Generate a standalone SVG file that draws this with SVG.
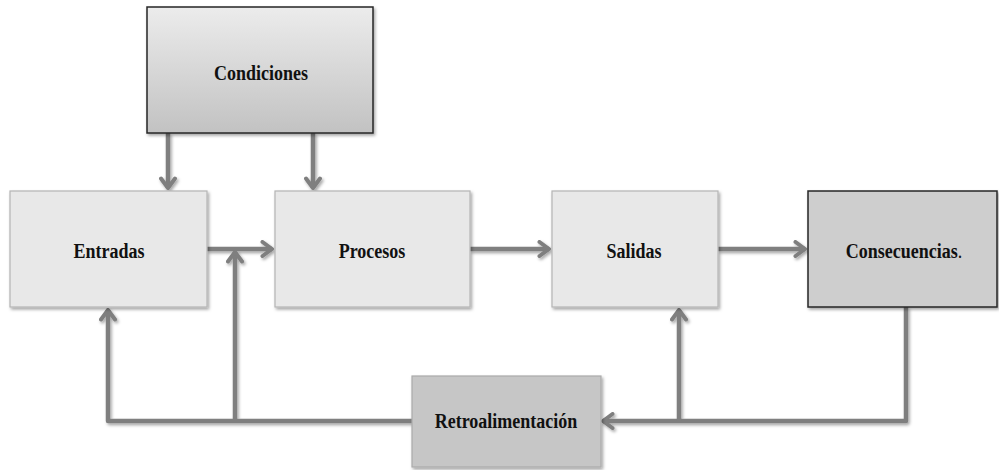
<svg xmlns="http://www.w3.org/2000/svg" width="999" height="470" viewBox="0 0 999 470">
<style>
.box{fill:#e8e8e8;stroke:#b4b4b4;stroke-width:1.2}
.dark{stroke:#262626;stroke-width:1.5}
.lbl{font-family:"Liberation Serif","Times New Roman",serif;font-weight:bold;font-size:18px;fill:#111;text-anchor:middle}
.c{fill:none;stroke:#7f7f7f;stroke-width:4.5;stroke-linejoin:round}
</style>
<defs>
<linearGradient id="g1" x1="0" y1="0" x2="0" y2="1">
<stop offset="0" stop-color="#ececec"/>
<stop offset="1" stop-color="#c2c2c2"/>
</linearGradient>
<filter id="sh" x="-10%" y="-10%" width="130%" height="130%">
<feDropShadow dx="1.5" dy="2" stdDeviation="1.5" flood-color="#000" flood-opacity="0.35"/>
</filter>
<marker id="ah" markerWidth="14" markerHeight="18" viewBox="0 0 14 18" refX="12" refY="9" orient="auto" markerUnits="userSpaceOnUse">
<path d="M2.5,2 L12,9 L2.5,16" fill="none" stroke="#7f7f7f" stroke-width="4" stroke-linecap="round" stroke-linejoin="round"/>
</marker>
</defs>
<g id="connectors" filter="url(#sh)">
<path class="c" d="M168,133 V188" marker-end="url(#ah)"/>
<path class="c" d="M313,133 V188" marker-end="url(#ah)"/>
<path class="c" d="M207,249 H272" marker-end="url(#ah)"/>
<path class="c" d="M470,249 H549" marker-end="url(#ah)"/>
<path class="c" d="M718,249 H805" marker-end="url(#ah)"/>
<path class="c" d="M412,421 H108 V310" marker-end="url(#ah)"/>
<path class="c" d="M235,421 V252" marker-end="url(#ah)"/>
<path class="c" d="M906,307 V421 H603" marker-end="url(#ah)"/>
<path class="c" d="M679,421 V310" marker-end="url(#ah)"/>
</g>
<g id="condiciones">
<rect x="147" y="7" width="226" height="126" fill="url(#g1)" class="dark" filter="url(#sh)"/>
<text class="lbl" transform="translate(261,80) scale(1,1.2)">Condiciones</text>
</g>
<g id="entradas">
<rect class="box" x="10" y="191" width="197" height="116" filter="url(#sh)"/>
<text class="lbl" transform="translate(109,258) scale(1,1.2)">Entradas</text>
</g>
<g id="procesos">
<rect class="box" x="275" y="191" width="195" height="116" filter="url(#sh)"/>
<text class="lbl" transform="translate(372,258) scale(1,1.2)">Procesos</text>
</g>
<g id="salidas">
<rect class="box" x="552" y="191" width="166" height="116" filter="url(#sh)"/>
<text class="lbl" transform="translate(634,258) scale(1,1.2)">Salidas</text>
</g>
<g id="consecuencias">
<rect x="808" y="191" width="189" height="116" fill="#cecece" class="dark" filter="url(#sh)"/>
<text class="lbl" transform="translate(904,258) scale(1,1.2)">Consecuencias<tspan font-weight="normal">.</tspan></text>
</g>
<g id="retroalimentacion">
<rect x="412" y="376" width="189" height="91" fill="#c6c6c6" stroke="#ababab" stroke-width="1.2" filter="url(#sh)"/>
<text class="lbl" transform="translate(506,428) scale(1,1.2)">Retroalimentación</text>
</g>
</svg>
